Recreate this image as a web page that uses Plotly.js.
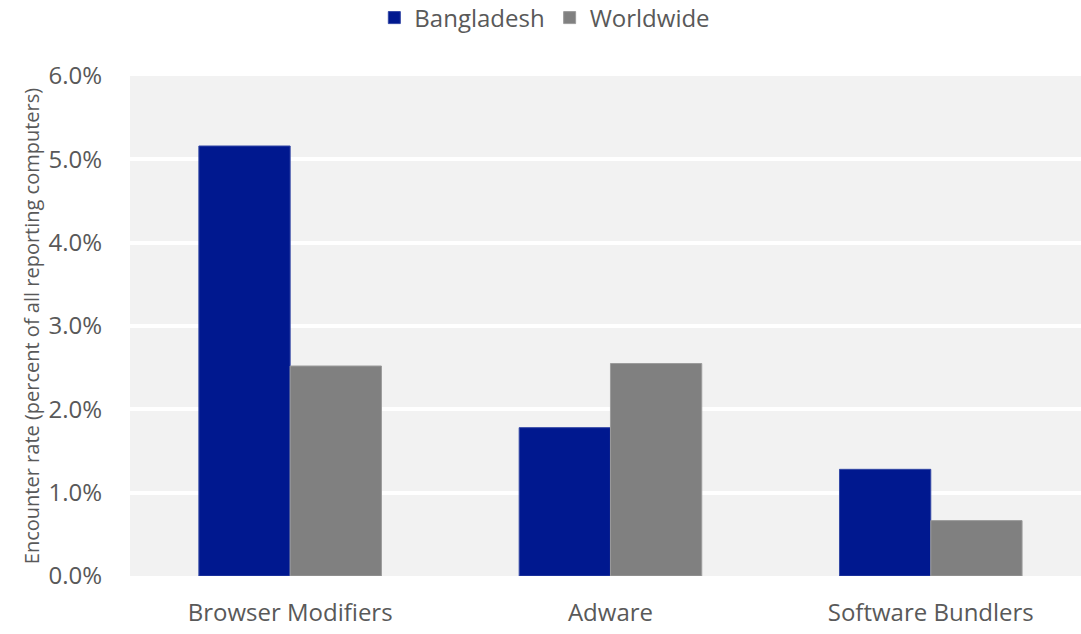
<!DOCTYPE html>
<html>
<head>
<meta charset="utf-8">
<script src="https://cdn.plot.ly/plotly-3.0.1.min.js"></script>
<style>
html,body{margin:0;padding:0;background:#fff;}
#chart{width:1081px;height:634px;}
</style>
</head>
<body>
<div id="chart"></div>
<script>
var categories = ["Browser Modifiers", "Adware", "Software Bundlers"];
var bangladesh = [5.16, 1.78, 1.28];
var worldwide = [2.52, 2.55, 0.665];
var tickVals = [0, 1, 2, 3, 4, 5, 6];
var tickText = ["0.0%", "1.0%", "2.0%", "3.0%", "4.0%", "5.0%", "6.0%"];

var FONT = "Open Sans, Noto Sans, sans-serif";
var TXT = "#595959";

var data = [
  {type: "bar", name: "Bangladesh", x: categories, y: bangladesh,
   marker: {color: "#00188F", line: {color: "#3347a5", width: 1}}},
  {type: "bar", name: "Worldwide", x: categories, y: worldwide,
   marker: {color: "#808080", line: {color: "#9c9c9c", width: 1}}}
];

var layout = {
  width: 1081, height: 634,
  margin: {l: 129.5, r: 0, t: 75.5, b: 57.5},
  paper_bgcolor: "#ffffff",
  plot_bgcolor: "#f2f2f2",
  font: {family: FONT, color: TXT, size: 24},
  barmode: "group",
  bargap: 0.43,
  bargroupgap: 0,
  showlegend: true,
  legend: {orientation: "h", xref: "container", yref: "container",
           x: 0.504, xanchor: "center", y: 1 - 18/634, yanchor: "middle",
           font: {family: FONT, size: 24, color: TXT}, itemwidth: 30,
           traceorder: "normal"},
  xaxis: {type: "category", range: [-0.5, 2.469], showgrid: false, zeroline: false,
          showline: false, ticks: "", ticklabelstandoff: 20,
          tickfont: {family: FONT, size: 24, color: TXT}, fixedrange: true},
  yaxis: {range: [0, 6], tickvals: tickVals, ticktext: tickText,
          showgrid: true, gridcolor: "#ffffff", gridwidth: 4,
          zeroline: false, showline: false, ticks: "", ticklabelstandoff: 27,
          tickfont: {family: FONT, size: 24, color: TXT},
          title: {text: "Encounter rate (percent of all reporting computers)",
                  font: {family: FONT, size: 20, color: TXT}, standoff: 3},
          fixedrange: true}
};

Plotly.newPlot("chart", data, layout, {displayModeBar: false, staticPlot: true});
</script>
</body>
</html>
